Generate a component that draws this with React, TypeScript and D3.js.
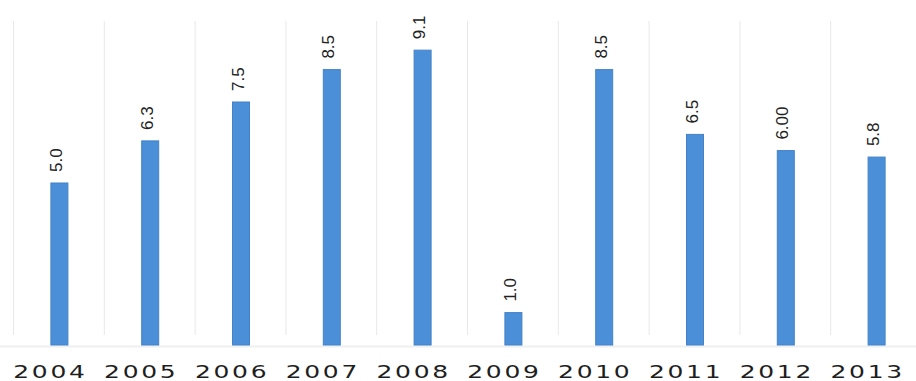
import React from "react";
import * as d3 from "d3";

const years = ["2004", "2005", "2006", "2007", "2008", "2009", "2010", "2011", "2012", "2013"];
const growth = [5.0, 6.3, 7.5, 8.5, 9.1, 1.0, 8.5, 6.5, 6.0, 5.8];
const valueLabels = ["5.0", "6.3", "7.5", "8.5", "9.1", "1.0", "8.5", "6.5", "6.00", "5.8"];

const W = 916;
const H = 381;
const baseY = 345;
const topY = 21;
const barW = 17;

export default function App() {
  const x = d3.scaleBand<string>().domain(years).range([13, 921]).padding(0);
  const y = d3.scaleLinear().domain([0, 10]).range([baseY, topY]);
  const bw = x.bandwidth();

  return (
    <svg
      width={W}
      height={H}
      style={{ position: "absolute", left: 0, top: 0, background: "#fff" }}
    >
      {/* faint vertical separators between categories */}
      {years.map((yr) => (
        <line
          key={"g" + yr}
          x1={x(yr)! + 0.5}
          x2={x(yr)! + 0.5}
          y1={topY}
          y2={baseY - 10}
          stroke="#e8e8e8"
          strokeWidth={1}
        />
      ))}
      {/* baseline */}
      <line x1={0} x2={W} y1={baseY + 1.5} y2={baseY + 1.5} stroke="#efefef" strokeWidth={2} />

      {years.map((yr, i) => {
        const cx = x(yr)! + bw / 2 + 1;
        const top = y(growth[i]);
        return (
          <g key={yr}>
            <rect
              x={cx - barW / 2}
              y={top}
              width={barW}
              height={baseY - top}
              fill="#4a8fd8"
              stroke="#4382c8"
              strokeWidth={1}
            />
            <text
              transform={`translate(${cx + 2.5},${top - 11}) rotate(-90)`}
              textAnchor="start"
              fontFamily="'Liberation Sans', Arial, sans-serif"
              fontSize={17}
              fill="#222"
            >
              {valueLabels[i]}
            </text>
            {/* year tick label, stretched horizontally */}
            <g transform={`translate(${cx - 10.3},377.5) scale(1.35,1)`}>
              <text
                x={0}
                y={0}
                textAnchor="middle"
                fontFamily="'DejaVu Sans', sans-serif"
                fontSize={18.5}
                letterSpacing={2}
                dx={1}
                fill="#1e1e1e"
              >
                {yr}
              </text>
            </g>
          </g>
        );
      })}
    </svg>
  );
}
